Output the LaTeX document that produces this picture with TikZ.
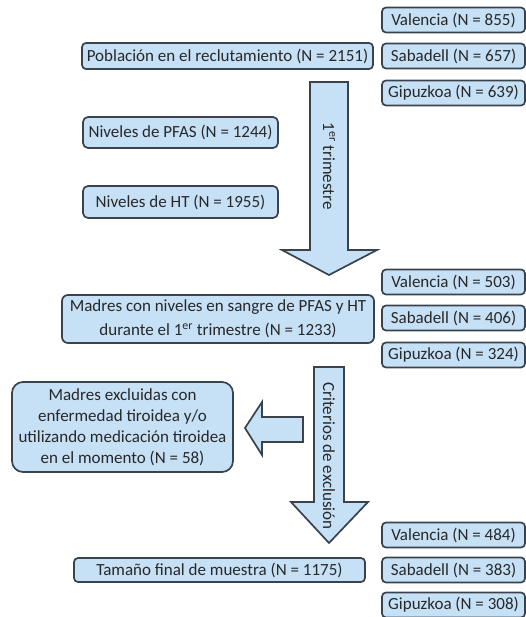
\documentclass[tikz,border=0pt]{standalone}
\usepackage{fontspec}
\setmainfont{Carlito}
\definecolor{boxfill}{RGB}{198,224,246}
\definecolor{boxline}{RGB}{58,66,76}
\definecolor{txt}{RGB}{40,40,40}
\begin{document}
\begin{tikzpicture}[x=1pt,y=-1pt,
  font=\fontsize{17}{21}\selectfont,
  every node/.style={text=txt},
  bx/.style={draw=boxline,fill=boxfill,line width=1.7pt,rounded corners=4pt,inner sep=0pt,align=center},
  site/.style={bx,minimum width=143pt,minimum height=25pt},
  barrow/.style={draw=boxline,fill=boxfill,line width=1.7pt,line join=miter}]
\useasboundingbox (0,0) rectangle (526,617);
% block arrows
\draw[barrow] (310,82) -- (348,82) -- (348,250) -- (377,250) -- (329,275) -- (282,250) -- (310,250) -- cycle;
\draw[barrow] (314,367) -- (344,367) -- (344,502) -- (368,502) -- (329,543) -- (291,502) -- (314,502) -- cycle;
\draw[barrow] (303,417) -- (303,442) -- (262,442) -- (262,455) -- (245,428) -- (262,402) -- (262,417) -- cycle;
\node[rotate=-90] (t1) at (329,166) {1\textsuperscript{er} trimestre};
\node[rotate=-90] (t2) at (329,456) {Criterios de exclusión};
% left column
\node[bx,minimum width=291pt,minimum height=26pt] (pob) at (227.5,56) {Población en el reclutamiento (N = 2151)};
\node[bx,minimum width=195pt,minimum height=31pt,rounded corners=5pt] (pfas) at (180.5,132.5) {Niveles de PFAS (N = 1244)};
\node[bx,minimum width=195pt,minimum height=32pt,rounded corners=5pt] (ht) at (180.5,202) {Niveles de HT (N = 1955)};
\node[bx,minimum width=312pt,minimum height=48pt,rounded corners=6pt,font=\fontsize{17}{24}\selectfont] (mad) at (218,319) {Madres con niveles en sangre de PFAS y HT\\durante el 1\textsuperscript{er} trimestre (N = 1233)};
\node[bx,minimum width=221pt,minimum height=90pt,rounded corners=11pt] (exc) at (122.5,427) {Madres excluidas con\\enfermedad tiroidea y/o\\utilizando medicación tiroidea\\en el momento (N = 58)};
\node[bx,minimum width=291pt,minimum height=24pt] (fin) at (219.5,570) {Tamaño final de muestra (N = 1175)};
% right column
\node[site] (v1) at (453.5,20) {Valencia (N = 855)};
\node[site] (s1) at (453.5,56) {Sabadell (N = 657)};
\node[site] (g1) at (453.5,93) {Gipuzkoa (N = 639)};
\node[site] (v2) at (453.5,282) {Valencia (N = 503)};
\node[site] (s2) at (453.5,318) {Sabadell (N = 406)};
\node[site] (g2) at (453.5,355) {Gipuzkoa (N = 324)};
\node[site] (v3) at (453.5,535) {Valencia (N = 484)};
\node[site] (s3) at (453.5,570) {Sabadell (N = 383)};
\node[site] (g3) at (453.5,605) {Gipuzkoa (N = 308)};
\end{tikzpicture}
\end{document}
